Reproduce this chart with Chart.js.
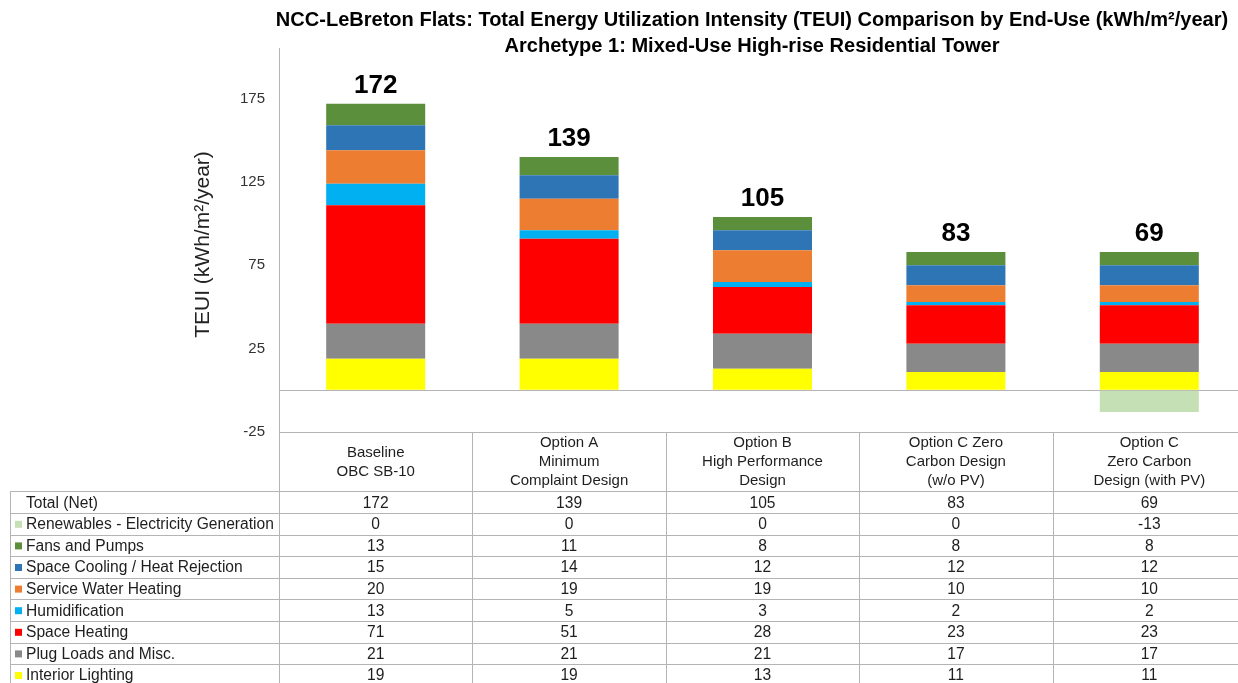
<!DOCTYPE html>
<html>
<head>
<meta charset="utf-8">
<title>TEUI Comparison by End-Use</title>
<script src="https://cdn.jsdelivr.net/npm/chart.js@4.4.0/dist/chart.umd.min.js"></script>
<style>
  html, body { margin: 0; padding: 0; background: #fff; overflow: hidden; }
  #wrap { width: 1238px; height: 683px; overflow: hidden; }
  #wrap canvas { display: block; }
</style>
</head>
<body>
<div id="wrap"><canvas id="teuiChart" width="1252" height="683"></canvas></div>
<script>
// --- Data ---
const categories = [
    ['Baseline', 'OBC SB-10'],
    ['Option A', 'Minimum', 'Complaint Design'],
    ['Option B', 'High Performance', 'Design'],
    ['Option C Zero', 'Carbon Design', '(w/o PV)'],
    ['Option C', 'Zero Carbon', 'Design (with PV)']
];
const totalNet = [172, 139, 105, 83, 69];
const renewables = [0, 0, 0, 0, -13];
const fansPumps = [13, 11, 8, 8, 8];
const spaceCooling = [15, 14, 12, 12, 12];
const serviceWater = [20, 19, 19, 10, 10];
const humidification = [13, 5, 3, 2, 2];
const spaceHeating = [71, 51, 28, 23, 23];
const plugLoads = [21, 21, 21, 17, 17];
const interiorLighting = [19, 19, 13, 11, 11];
const yTickLabels = [-25, 25, 75, 125, 175];

const FONT = "'Liberation Sans', Arial, Helvetica, sans-serif";
const LINE = '#b4b4b4';

// table order (top to bottom); stacking goes the other way
const series = [
    { label: 'Renewables - Electricity Generation', data: renewables, color: '#c5e0b4' },
    { label: 'Fans and Pumps', data: fansPumps, color: '#5b8f3b' },
    { label: 'Space Cooling / Heat Rejection', data: spaceCooling, color: '#2e75b6' },
    { label: 'Service Water Heating', data: serviceWater, color: '#ed7d31' },
    { label: 'Humidification', data: humidification, color: '#00b0f0' },
    { label: 'Space Heating', data: spaceHeating, color: '#ff0000' },
    { label: 'Plug Loads and Misc.', data: plugLoads, color: '#898989' },
    { label: 'Interior Lighting', data: interiorLighting, color: '#ffff00' }
];

const datasets = series.slice().reverse().map(s => ({
    label: s.label,
    data: s.data,
    backgroundColor: s.color,
    borderWidth: 0,
    categoryPercentage: 1,
    barPercentage: 0.512
}));

// --- Titre, totaux et tableau de données ---
const overlay = {
    id: 'overlay',
    afterDraw(chart) {
        const ctx = chart.ctx;
        const area = chart.chartArea;
        const xs = chart.scales.x;
        ctx.save();

        // title
        const t1 = 'NCC-LeBreton Flats: Total Energy Utilization Intensity (TEUI) Comparison by End-Use (kWh/m²/year)';
        const t2 = 'Archetype 1: Mixed-Use High-rise Residential Tower';
        ctx.font = `bold 17px ${FONT}`;
        const size = 17 * 953 / ctx.measureText(t1).width;
        ctx.font = `bold ${size}px ${FONT}`;
        ctx.fillStyle = '#000';
        ctx.textAlign = 'center';
        ctx.textBaseline = 'middle';
        ctx.fillText(t1, 752, 20);
        ctx.fillText(t2, 752, 46);

        // plot area border above the axis
        ctx.strokeStyle = LINE;
        ctx.lineWidth = 1;
        ctx.beginPath();
        ctx.moveTo(Math.round(area.left) + 0.5, 48);
        ctx.lineTo(Math.round(area.left) + 0.5, area.top);
        ctx.stroke();

        // totals on top of the positive stack
        const topMeta = chart.getDatasetMeta(datasets.length - 2);
        ctx.font = `bold 26px ${FONT}`;
        ctx.textBaseline = 'alphabetic';
        totalNet.forEach((v, i) => {
            const bar = topMeta.data[i];
            ctx.fillText(String(v), bar.x, bar.y - 11);
        });

        // data table
        const rows = [{ label: 'Total (Net)', data: totalNet, color: null }].concat(series);
        const step = xs.getPixelForValue(1) - xs.getPixelForValue(0);
        const edges = categories.map((c, i) => xs.getPixelForValue(i) - step / 2);
        edges.push(xs.getPixelForValue(categories.length - 1) + step / 2);
        const tableTop = area.bottom + 59.4;
        const rowH = 21.6;
        const tableLeft = 10;
        const bottom = chart.height;

        ctx.beginPath();
        for (let k = 0; k <= rows.length; k++) {
            const y = Math.round(tableTop + k * rowH) + 0.5;
            ctx.moveTo(tableLeft, y);
            ctx.lineTo(edges[edges.length - 1], y);
        }
        ctx.moveTo(tableLeft + 0.5, tableTop);
        ctx.lineTo(tableLeft + 0.5, bottom);
        edges.forEach(x => {
            const px = Math.round(x) + 0.5;
            ctx.moveTo(px, area.bottom);
            ctx.lineTo(px, bottom);
        });
        ctx.stroke();

        ctx.font = `15.6px ${FONT}`;
        ctx.textBaseline = 'middle';
        rows.forEach((r, k) => {
            const cy = tableTop + k * rowH + rowH / 2 + 1;
            if (r.color) {
                ctx.fillStyle = r.color;
                ctx.fillRect(15, cy - 4, 7, 7);
            }
            ctx.fillStyle = '#1e1e1e';
            ctx.textAlign = 'left';
            ctx.fillText(r.label, 26, cy);
            ctx.textAlign = 'center';
            r.data.forEach((v, i) => {
                ctx.fillText(String(v), xs.getPixelForValue(i), cy);
            });
        });
        ctx.restore();
    }
};

new Chart(document.getElementById('teuiChart'), {
    type: 'bar',
    data: { labels: categories, datasets },
    options: {
        responsive: false,
        animation: false,
        layout: { padding: { left: 190, right: 6, top: 57, bottom: 192 } },
        plugins: {
            legend: { display: false },
            tooltip: { enabled: false },
            title: { display: false }
        },
        scales: {
            x: {
                stacked: true,
                grid: { display: false, drawTicks: false },
                border: { display: true, color: LINE },
                ticks: {
                    font: { family: FONT, size: 15, lineHeight: '19px' },
                    color: '#1e1e1e',
                    padding: 11,
                    crossAlign: 'center',
                    maxRotation: 0,
                    autoSkip: false
                },
                afterFit: s => { s.height = 59; }
            },
            y: {
                stacked: true,
                min: -25,
                max: 200,
                afterBuildTicks: s => {
                    s.ticks = [-25, 0, 25, 75, 125, 175].map(v => ({ value: v }));
                },
                grid: {
                    drawTicks: false,
                    color: c => (c.tick && c.tick.value === 0) ? LINE : 'rgba(0,0,0,0)'
                },
                border: { display: true, color: LINE },
                ticks: {
                    font: { family: FONT, size: 15 },
                    color: '#333',
                    padding: 14,
                    callback: v => yTickLabels.includes(v) ? String(v) : ''
                },
                title: {
                    display: true,
                    text: 'TEUI (kWh/m²/year)',
                    font: { family: FONT, size: 21 },
                    color: '#222',
                    padding: { top: 1, bottom: 0 }
                },
                afterFit: s => { s.width = 89; }
            }
        }
    },
    plugins: [overlay]
});
</script>
</body>
</html>
